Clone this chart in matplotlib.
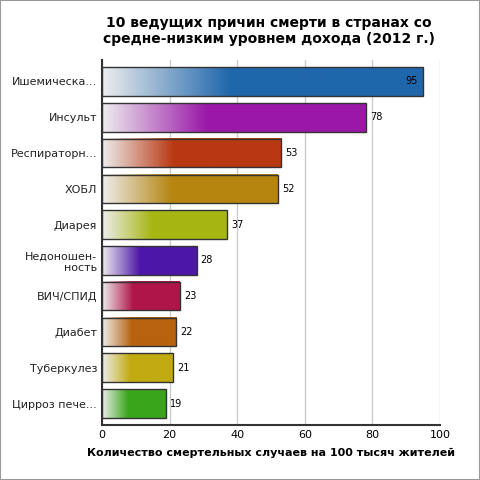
import matplotlib.pyplot as plt
import numpy as np
from matplotlib.colors import to_rgb

categories = ["Ишемическа...", "Инсульт", "Респираторн...", "ХОБЛ", "Диарея",
              "Недоношен-\nность", "ВИЧ/СПИД", "Диабет", "Туберкулез", "Цирроз пече..."]
values = [95, 78, 53, 52, 37, 28, 23, 22, 21, 19]
colors = ["#1f66ab", "#9a17a8", "#b83812", "#b5850f", "#a6b612",
          "#4c17a8", "#b0154a", "#b8620f", "#c1aa12", "#3aa51c"]

fig = plt.figure(figsize=(4.8, 4.8), dpi=100)
fig.patch.set_facecolor("white")
ax = fig.add_axes([102 / 480, 1 - 425 / 480, 338 / 480, 365 / 480])

n = len(values)
h = 0.8
ramp = np.linspace(0, 1, 200)
for i, (v, c) in enumerate(zip(values, colors)):
    y = n - 1 - i
    rgb = np.array(to_rgb(c))
    t = np.clip(ramp / 0.4, 0, 1)[:, None]
    img = (1 - t) * np.array([0.93, 0.93, 0.93]) + t * rgb
    ax.imshow(img[None, :, :], extent=[0, v, y - h / 2, y + h / 2], aspect="auto", zorder=2)
    ax.add_patch(plt.Rectangle((0, y - h / 2), v, h, fill=False, ec="#333333", lw=1, zorder=3))
    ax.text(v + 1.2 if v < 90 else v - 1.5, y, str(v), va="center",
            ha="left" if v < 90 else "right", fontsize=7, zorder=4)

ax.set_xlim(0, 100)
ax.set_ylim(-0.6, n - 0.4)
ax.set_yticks(range(n))
ax.set_yticklabels(categories[::-1], fontsize=8, color="#222222")
ax.set_xticks([0, 20, 40, 60, 80, 100])
ax.tick_params(axis="x", labelsize=8, length=0)
ax.tick_params(axis="y", length=0)
ax.grid(axis="x", color="#cccccc", lw=1, zorder=0)
ax.set_axisbelow(True)
for s in ["top", "right"]:
    ax.spines[s].set_visible(False)
ax.spines["left"].set_color("#333333")
ax.spines["left"].set_linewidth(1.5)
ax.spines["bottom"].set_color("#333333")
ax.spines["bottom"].set_linewidth(1.5)
ax.set_xlabel("Количество смертельных случаев на 100 тысяч жителей",
              fontsize=8, fontweight="bold", labelpad=6)
fig.text(0.56, 0.935, "10 ведущих причин смерти в странах со\nсредне-низким уровнем дохода (2012 г.)",
         ha="center", va="center", fontsize=10, fontweight="bold")
fig.add_artist(plt.Rectangle((0, 0), 1, 1, transform=fig.transFigure,
                             fill=False, ec="#999999", lw=1.5))
fig.savefig("out.png", dpi=100)
